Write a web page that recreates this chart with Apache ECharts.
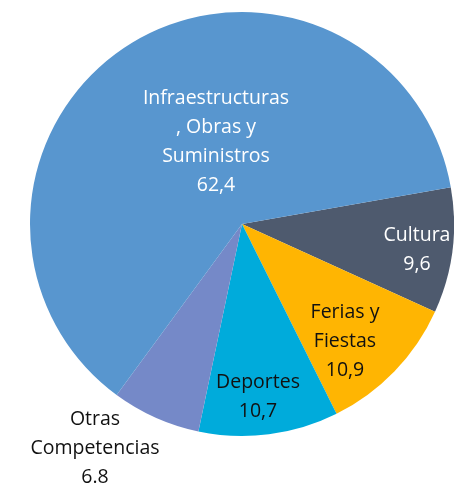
<!DOCTYPE html>
<html>
<head>
<meta charset="utf-8">
<script src="https://cdn.jsdelivr.net/npm/echarts@6/dist/echarts.min.js"></script>
<style>
  html, body { margin: 0; padding: 0; background: #fff; }
  #main { width: 454px; height: 485px; }
</style>
</head>
<body>
<div id="main"></div>
<script>
  // slices, clockwise from the right-hand edge
  const categories = ["Cultura", "Ferias y\nFiestas", "Deportes", "Otras\nCompetencias", "Infraestructuras\n, Obras y\nSuministros"];
  const values = [9.6, 10.9, 10.7, 6.8, 62.4];
  const valueLabels = ["9,6", "10,9", "10,7", "6.8", "62,4"];

  const colors = ["#4E5A6E", "#FFB502", "#00ABDB", "#7589C8", "#5896CF"];
  const textColors = ["#ffffff", "#111111", "#111111", "#111111", "#ffffff"];
  // where each label sits (center of the text block)
  const labelSpots = [[417, 250], [345, 341], [258, 397], [95, 448], [216, 142]];

  const chartDom = document.getElementById("main");
  const myChart = echarts.init(chartDom);

  const option = {
    animation: false,
    series: [
      {
        type: "pie",
        center: [242, 224],
        radius: [0, 212],
        startAngle: 10,
        clockwise: true,
        itemStyle: { borderWidth: 0 },
        label: {
          show: true,
          position: "inside",
          fontFamily: "Open Sans",
          fontSize: 19.5,
          lineHeight: 29,
          align: "center",
          formatter: (p) => p.name + "\n" + valueLabels[p.dataIndex],
        },
        labelLine: { show: false },
        labelLayout: (params) => ({
          x: labelSpots[params.dataIndex][0],
          y: labelSpots[params.dataIndex][1],
          align: "center",
          verticalAlign: "middle",
        }),
        data: categories.map((name, i) => ({
          name: name,
          value: values[i],
          itemStyle: { color: colors[i] },
          label: { color: textColors[i] },
        })),
      },
    ],
  };

  myChart.setOption(option);
</script>
</body>
</html>
